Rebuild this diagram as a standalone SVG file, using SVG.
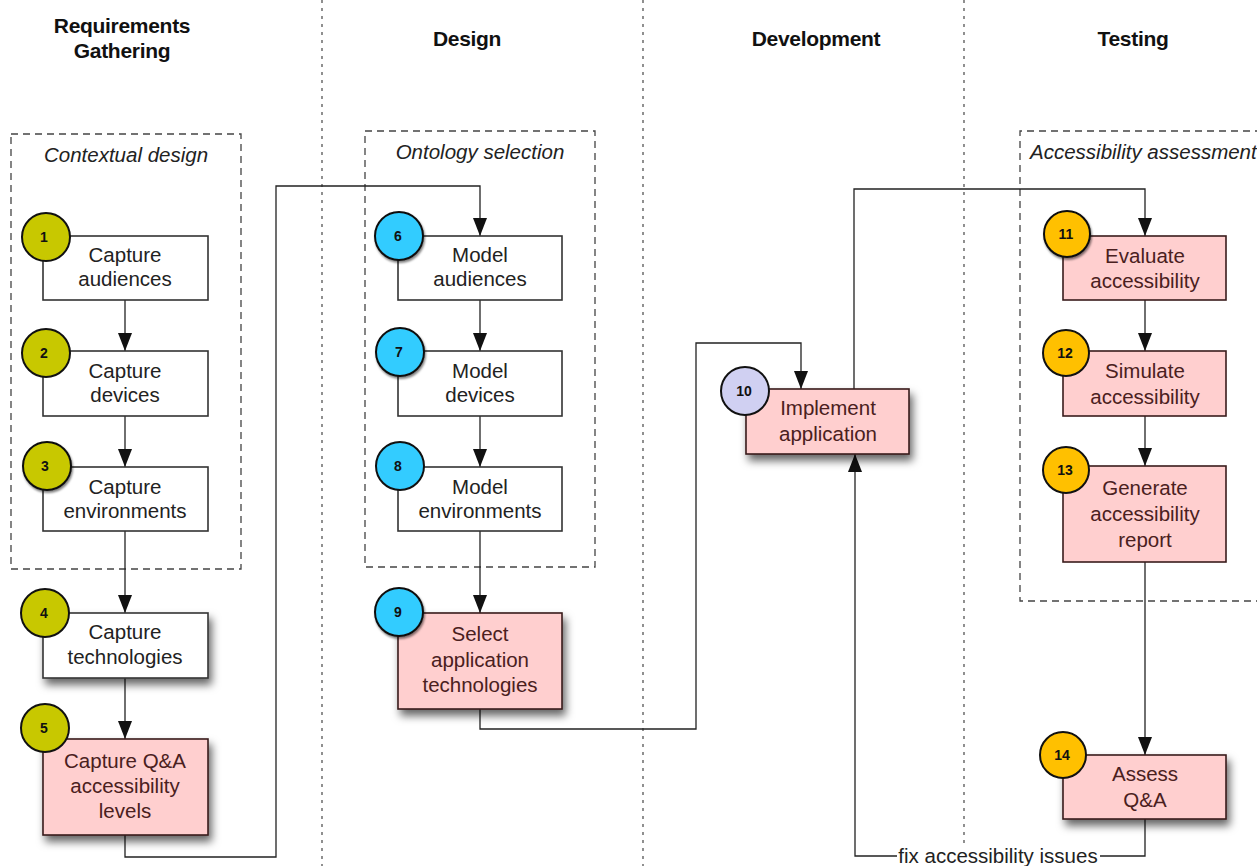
<svg xmlns="http://www.w3.org/2000/svg" width="1257" height="866" viewBox="0 0 1257 866">
<style>
.lane{stroke:#555;stroke-width:1.3;stroke-dasharray:3,5;fill:none}
.grp{stroke:#444;stroke-width:1.3;stroke-dasharray:7,5;fill:none}
.hdr{font-family:"Liberation Sans",Arial,sans-serif;font-weight:bold;font-size:21px;fill:#111;text-anchor:middle;letter-spacing:-0.3px}
.gt{font-family:"Liberation Sans",Arial,sans-serif;font-style:italic;font-size:20.5px;fill:#222;text-anchor:middle}
.box{fill:#fff;stroke:#333;stroke-width:1.6}
.pbox{fill:#ffcfcf;stroke:#3a1c1c;stroke-width:1.6}
.t{font-family:"Liberation Sans",Arial,sans-serif;font-size:20.5px;fill:#222;text-anchor:middle}
.pt{font-family:"Liberation Sans",Arial,sans-serif;font-size:20.5px;fill:#4a2020;text-anchor:middle}
.num{font-family:"Liberation Sans",Arial,sans-serif;font-weight:bold;font-size:14px;fill:#111;text-anchor:middle}
.c{stroke:#111;stroke-width:2}
.cy{fill:#c8c800}.cb{fill:#33ccff}.cl{fill:#d0d0f2}.co{fill:#ffc000}
.conn{fill:none;stroke:#222;stroke-width:1.3;marker-end:url(#ah)}
.lbl{font-family:"Liberation Sans",Arial,sans-serif;font-size:20.5px;fill:#222;text-anchor:middle}
</style>
<defs>
<marker id="ah" viewBox="0 0 18 14" refX="18" refY="7" markerWidth="18" markerHeight="14" markerUnits="userSpaceOnUse" orient="auto">
<path d="M0,0 L18,7 L0,14 z" fill="#111"/>
</marker>
<filter id="sh" x="-20%" y="-20%" width="150%" height="160%">
<feDropShadow dx="3" dy="6" stdDeviation="4.5" flood-color="#000" flood-opacity="0.6"/>
</filter>
<filter id="csh" x="-30%" y="-30%" width="170%" height="170%">
<feDropShadow dx="1" dy="2" stdDeviation="0.8" flood-color="#000" flood-opacity="0.5"/>
</filter>
</defs>
<rect width="1257" height="866" fill="#fff"/>

<g id="lanes">
<line class="lane" x1="322" y1="0" x2="322" y2="866"/>
<line class="lane" x1="643" y1="0" x2="643" y2="866"/>
<line class="lane" x1="964" y1="0" x2="964" y2="866"/>
<text class="hdr" x="122" y="33">Requirements</text>
<text class="hdr" x="122" y="58">Gathering</text>
<text class="hdr" x="467" y="46">Design</text>
<text class="hdr" x="816" y="46">Development</text>
<text class="hdr" x="1133" y="46">Testing</text>
</g>

<g id="groups">
<rect class="grp" x="11" y="134" width="230" height="435"/>
<text class="gt" x="126" y="162">Contextual design</text>
<rect class="grp" x="365" y="131" width="230" height="436"/>
<text class="gt" x="480" y="159">Ontology selection</text>
<path class="grp" d="M1262,131 H1020 V601 H1262"/>
<text class="gt" x="1030" y="159" style="text-anchor:start">Accessibility assessment</text>
</g>

<g id="connectors">
<line class="conn" x1="125" y1="300" x2="125" y2="351"/>
<line class="conn" x1="125" y1="416" x2="125" y2="467"/>
<line class="conn" x1="125" y1="531" x2="125" y2="613"/>
<line class="conn" x1="125" y1="678" x2="125" y2="739"/>
<path class="conn" d="M125,835 V857 H276 V186 H480 V236"/>
<line class="conn" x1="480" y1="300" x2="480" y2="351"/>
<line class="conn" x1="480" y1="416" x2="480" y2="467"/>
<line class="conn" x1="480" y1="531" x2="480" y2="613"/>
<path class="conn" d="M480,709 V729 H696 V343 H801 V389"/>
<path class="conn" d="M854,389 V189 H1145 V236"/>
<line class="conn" x1="1145" y1="300" x2="1145" y2="351"/>
<line class="conn" x1="1145" y1="416" x2="1145" y2="466"/>
<line class="conn" x1="1145" y1="562" x2="1145" y2="755"/>
<path class="conn" d="M1145,819 V856 H855 V454"/>
<rect x="897" y="845" width="203" height="21" fill="#fff"/>
<text class="lbl" x="998" y="863">fix accessibility issues</text>
</g>

<g id="n1"><rect class="box" x="43" y="236" width="165" height="64"/><text class="t" x="125" y="262">Capture</text><text class="t" x="125" y="286">audiences</text><circle class="c cy" cx="46" cy="237" r="24"/><text class="num" x="44" y="242">1</text></g>
<g id="n2"><rect class="box" x="43" y="351" width="165" height="65"/><text class="t" x="125" y="378">Capture</text><text class="t" x="125" y="402">devices</text><circle class="c cy" cx="46" cy="353" r="24"/><text class="num" x="44" y="358">2</text></g>
<g id="n3"><rect class="box" x="43" y="467" width="165" height="64"/><text class="t" x="125" y="494">Capture</text><text class="t" x="125" y="518">environments</text><circle class="c cy" cx="47" cy="466" r="24" filter="url(#csh)"/><text class="num" x="45" y="471">3</text></g>
<g id="n4"><rect class="box" x="43" y="613" width="165" height="65" filter="url(#sh)"/><text class="t" x="125" y="639">Capture</text><text class="t" x="125" y="664">technologies</text><circle class="c cy" cx="45" cy="613" r="24"/><text class="num" x="44" y="618">4</text></g>
<g id="n5"><rect class="pbox" x="43" y="739" width="165" height="96" filter="url(#sh)"/><text class="pt" x="125" y="768">Capture Q&amp;A</text><text class="pt" x="125" y="793">accessibility</text><text class="pt" x="125" y="818">levels</text><circle class="c cy" cx="45" cy="728" r="24"/><text class="num" x="44" y="733">5</text></g>

<g id="n6"><rect class="box" x="398" y="236" width="164" height="64"/><text class="t" x="480" y="262">Model</text><text class="t" x="480" y="286">audiences</text><circle class="c cb" cx="399" cy="236" r="24" filter="url(#csh)"/><text class="num" x="398" y="241">6</text></g>
<g id="n7"><rect class="box" x="398" y="351" width="164" height="65"/><text class="t" x="480" y="378">Model</text><text class="t" x="480" y="402">devices</text><circle class="c cb" cx="400" cy="352" r="24" filter="url(#csh)"/><text class="num" x="399" y="357">7</text></g>
<g id="n8"><rect class="box" x="398" y="467" width="164" height="64"/><text class="t" x="480" y="494">Model</text><text class="t" x="480" y="518">environments</text><circle class="c cb" cx="400" cy="466" r="24"/><text class="num" x="398" y="471">8</text></g>
<g id="n9"><rect class="pbox" x="398" y="613" width="164" height="96" filter="url(#sh)"/><text class="pt" x="480" y="641">Select</text><text class="pt" x="480" y="667">application</text><text class="pt" x="480" y="692">technologies</text><circle class="c cb" cx="399" cy="612" r="24" filter="url(#csh)"/><text class="num" x="398" y="617">9</text></g>

<g id="n10"><rect class="pbox" x="746" y="389" width="163" height="65" filter="url(#sh)"/><text class="pt" x="828" y="415">Implement</text><text class="pt" x="828" y="441">application</text><circle class="c cl" cx="745" cy="391" r="24"/><text class="num" x="744" y="396">10</text></g>

<g id="n11"><rect class="pbox" x="1063" y="236" width="163" height="64"/><text class="pt" x="1145" y="263">Evaluate</text><text class="pt" x="1145" y="288">accessibility</text><circle class="c co" cx="1067" cy="234" r="23" filter="url(#csh)"/><text class="num" x="1066" y="239">11</text></g>
<g id="n12"><rect class="pbox" x="1063" y="351" width="163" height="65"/><text class="pt" x="1145" y="378">Simulate</text><text class="pt" x="1145" y="404">accessibility</text><circle class="c co" cx="1066" cy="353" r="23"/><text class="num" x="1065" y="358">12</text></g>
<g id="n13"><rect class="pbox" x="1063" y="466" width="163" height="96"/><text class="pt" x="1145" y="495">Generate</text><text class="pt" x="1145" y="521">accessibility</text><text class="pt" x="1145" y="547">report</text><circle class="c co" cx="1066" cy="470" r="23"/><text class="num" x="1065" y="475">13</text></g>
<g id="n14"><rect class="pbox" x="1063" y="755" width="163" height="64" filter="url(#sh)"/><text class="pt" x="1145" y="781">Assess</text><text class="pt" x="1145" y="807">Q&amp;A</text><circle class="c co" cx="1063" cy="755" r="23"/><text class="num" x="1062" y="760">14</text></g>
</svg>
